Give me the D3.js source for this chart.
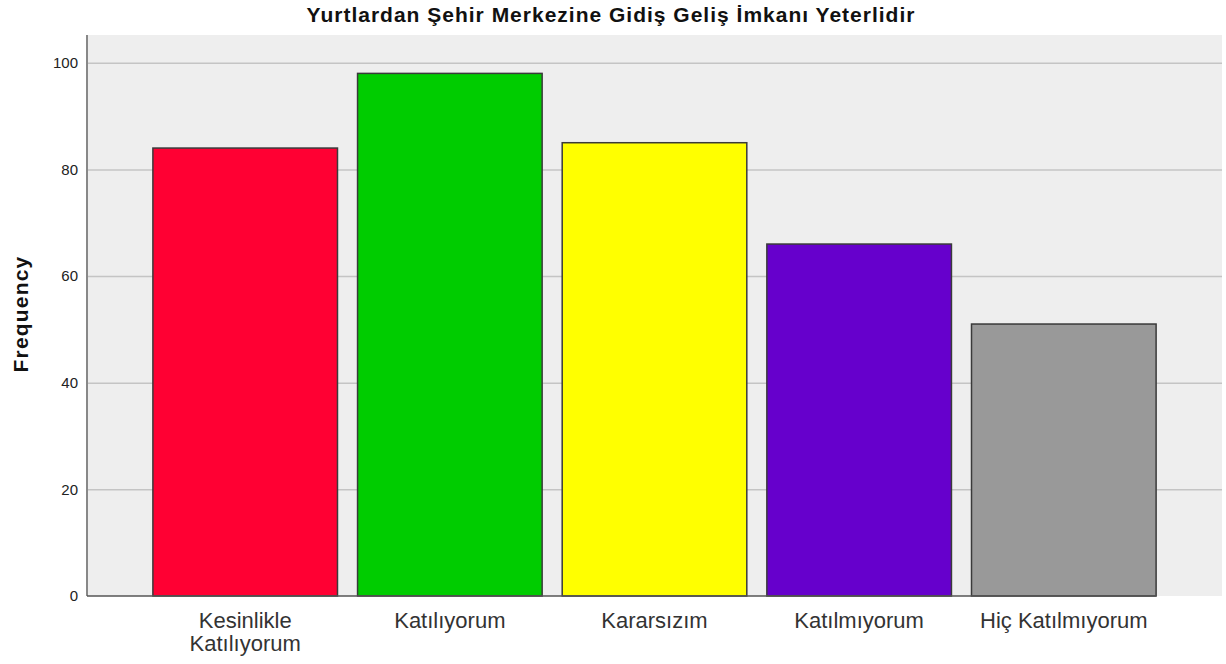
<!DOCTYPE html>
<html>
<head>
<meta charset="utf-8">
<script src="https://cdn.jsdelivr.net/npm/d3@7"></script>
<style>
  body { margin: 0; background: #fff; }
  svg { display: block; font-family: "Liberation Sans", Arial, sans-serif; }
</style>
</head>
<body>
<svg id="chart" width="1226" height="664"></svg>
<script>
"use strict";

var chartTitle = "Yurtlardan Şehir Merkezine Gidiş Geliş İmkanı Yeterlidir";
var categories = [
    ["Kesinlikle", "Katılıyorum"],
    ["Katılıyorum"],
    ["Kararsızım"],
    ["Katılmıyorum"],
    ["Hiç Katılmıyorum"]
];
var frequencies = [84, 98, 85, 66, 51];
var barColors = ["#ff0033", "#00cc00", "#ffff00", "#6600cc", "#999999"];
var yTicks = [0, 20, 40, 60, 80, 100];

var svg = d3.select("#chart");
var margin = { top: 35, right: 4, bottom: 68, left: 87 };
var width = 1226 - margin.left - margin.right;
var height = 664 - margin.top - margin.bottom;

var keys = categories.map(function (d) { return d.join(" "); });
var x = d3.scaleBand().domain(keys).range([0, width])
    .paddingInner(0.098).paddingOuter(0.322);
var y = d3.scaleLinear().domain([0, 105.2]).range([height, 0]);

var g = svg.append("g")
    .attr("transform", "translate(" + margin.left + "," + margin.top + ")");

// plot background
g.append("rect")
    .attr("width", width).attr("height", height)
    .attr("fill", "#eeeeee");

// grid lines
g.append("g").selectAll("line").data(yTicks.filter(function (d) { return d > 0; }))
    .join("line")
    .attr("x1", 0).attr("x2", width)
    .attr("y1", function (d) { return y(d) + 0.5; })
    .attr("y2", function (d) { return y(d) + 0.5; })
    .attr("stroke", "#c4c4c4").attr("stroke-width", 1.5);

// bars
g.append("g").selectAll("rect").data(frequencies)
    .join("rect")
    .attr("x", function (d, i) { return x(keys[i]); })
    .attr("y", function (d) { return y(d); })
    .attr("width", x.bandwidth())
    .attr("height", function (d) { return height - y(d); })
    .attr("fill", function (d, i) { return barColors[i]; })
    .attr("stroke", "#3a3a3a").attr("stroke-width", 1.5);

// y axis
var yAxis = d3.axisLeft(y).tickValues(yTicks).tickSize(0).tickPadding(9);
var gY = g.append("g").call(yAxis);
gY.select(".domain").remove();
gY.selectAll("text").attr("font-size", 15).attr("fill", "#222")
    .attr("font-family", "Liberation Sans, Arial, sans-serif");

// axis lines
g.append("line").attr("x1", 0).attr("x2", 0).attr("y1", 0).attr("y2", height)
    .attr("stroke", "#888").attr("stroke-width", 2);
g.append("line").attr("x1", 0).attr("x2", x(keys[keys.length - 1]) + x.bandwidth()).attr("y1", height).attr("y2", height)
    .attr("stroke", "#555").attr("stroke-width", 1.5);

// x labels
var xLab = g.append("g").selectAll("text").data(categories)
    .join("text")
    .attr("x", function (d, i) { return x(keys[i]) + x.bandwidth() / 2; })
    .attr("y", height + 32)
    .attr("text-anchor", "middle")
    .attr("font-size", 22)
    .attr("fill", "#333");
xLab.selectAll("tspan").data(function (d) { return d; })
    .join("tspan")
    .attr("x", function () { return this.parentNode.getAttribute("x"); })
    .attr("dy", function (d, i) { return i === 0 ? 0 : 23; })
    .text(function (d) { return d; });

// title
svg.append("text")
    .attr("x", 611).attr("y", 22)
    .attr("text-anchor", "middle")
    .attr("font-size", 21).attr("font-weight", "bold")
    .attr("letter-spacing", 1)
    .attr("fill", "#111")
    .text(chartTitle);

// y label
svg.append("text")
    .attr("transform", "translate(28,314) rotate(-90)")
    .attr("text-anchor", "middle")
    .attr("font-size", 21).attr("font-weight", "bold")
    .attr("letter-spacing", 1.2)
    .attr("fill", "#111")
    .text("Frequency");
</script>
</body>
</html>
